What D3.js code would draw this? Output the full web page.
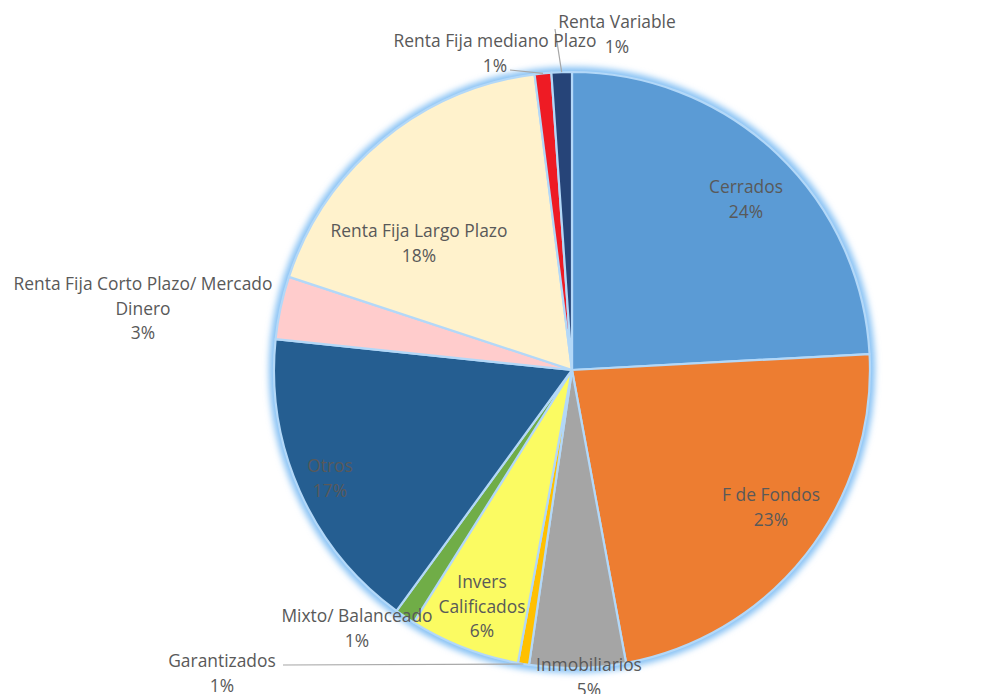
<!DOCTYPE html>
<html>
<head>
<meta charset="utf-8">
<script src="https://cdn.jsdelivr.net/npm/d3@7"></script>
<style>
  body { margin: 0; background: #fff; }
  svg { display: block; }
</style>
</head>
<body>
<script>
// tipos de fondo, sentido horario desde las 12
const categories = ["Cerrados", "F de Fondos", "Inmobiliarios", "Garantizados", "Invers Calificados",
  "Mixto/ Balanceado", "Otros", "Renta Fija Corto Plazo/ Mercado Dinero", "Renta Fija Largo Plazo",
  "Renta Fija mediano Plazo", "Renta Variable"];
const values = [24.1, 22.9, 5.2, 0.6, 6.0, 1.1, 16.6, 3.4, 17.9, 0.9, 1.1];
const pctLabels = ["24%", "23%", "5%", "1%", "6%", "1%", "17%", "3%", "18%", "1%", "1%"];
const colors = ["#5b9bd5", "#ed7d31", "#a5a5a5", "#ffc000", "#fbfb62", "#70ad47",
  "#255e91", "#ffcccc", "#fff2cc", "#ee1b24", "#264478"];

// texto de cada etiqueta (lineas) y donde va
const labelLines = {
  "Cerrados": ["Cerrados"],
  "F de Fondos": ["F de Fondos"],
  "Inmobiliarios": ["Inmobiliarios"],
  "Garantizados": ["Garantizados"],
  "Invers Calificados": ["Invers", "Calificados"],
  "Mixto/ Balanceado": ["Mixto/ Balanceado"],
  "Otros": ["Otros"],
  "Renta Fija Corto Plazo/ Mercado Dinero": ["Renta Fija Corto Plazo/ Mercado", "Dinero"],
  "Renta Fija Largo Plazo": ["Renta Fija Largo Plazo"],
  "Renta Fija mediano Plazo": ["Renta Fija mediano Plazo"],
  "Renta Variable": ["Renta Variable"]
};
const labelPos = {
  "Cerrados": [746, 193],
  "F de Fondos": [771, 501],
  "Inmobiliarios": [589, 671],
  "Garantizados": [222, 667],
  "Invers Calificados": [482, 588],
  "Mixto/ Balanceado": [357, 622],
  "Otros": [330, 472],
  "Renta Fija Corto Plazo/ Mercado Dinero": [143, 290],
  "Renta Fija Largo Plazo": [419, 237],
  "Renta Fija mediano Plazo": [495, 47],
  "Renta Variable": [617, 28]
};
// lineas guia: [inicio x, inicio y], termina en el borde del sector
const leaders = {
  "Garantizados": [283, 665],
  "Renta Fija mediano Plazo": [510, 70],
  "Renta Variable": [555, 29]
};

const WIDTH = 994, HEIGHT = 694;
const CX = 572, CY = 370, R = 298;
const LINE_H = 24.5;

const svg = d3.select("body").append("svg")
  .attr("width", WIDTH).attr("height", HEIGHT);

const defs = svg.append("defs");
defs.append("filter").attr("id", "glow")
  .attr("x", "-20%").attr("y", "-20%").attr("width", "140%").attr("height", "140%")
  .append("feGaussianBlur").attr("stdDeviation", 3.2);

const data = categories.map((c, i) => ({ name: c, value: values[i], pct: pctLabels[i], color: colors[i] }));

const pie = d3.pie().value(d => d.value).sort(null);
const arcs = pie(data);
const arc = d3.arc().innerRadius(0).outerRadius(R);

const g = svg.append("g").attr("transform", `translate(${CX},${CY})`);

// resplandor celeste
g.append("g").attr("filter", "url(#glow)")
  .selectAll("path")
  .data(arcs)
  .enter()
  .append("path")
  .attr("d", arc)
  .attr("fill", "#9fcdf5")
  .attr("stroke", "#86c1f4")
  .attr("stroke-width", 10)
  .attr("stroke-linejoin", "round");

g.append("g")
  .selectAll("path")
  .data(arcs)
  .enter()
  .append("path")
  .attr("d", arc)
  .attr("fill", d => d.data.color)
  .attr("stroke", "#b3d8f8")
  .attr("stroke-width", 2.2)
  .attr("stroke-linejoin", "round");

// lineas guia
arcs.forEach(a => {
  const start = leaders[a.data.name];
  if (!start) return;
  const mid = (a.startAngle + a.endAngle) / 2;
  const ex = CX + R * Math.sin(mid);
  const ey = CY - R * Math.cos(mid);
  svg.append("line")
    .attr("x1", start[0]).attr("y1", start[1])
    .attr("x2", ex).attr("y2", ey)
    .attr("stroke", "#a6a6a6")
    .attr("stroke-width", 1.2);
});

// etiquetas
arcs.forEach(a => {
  const name = a.data.name;
  const pos = labelPos[name];
  const lines = labelLines[name].concat([a.data.pct]);
  const t = svg.append("text")
    .attr("x", pos[0]).attr("y", pos[1])
    .attr("text-anchor", "middle")
    .attr("font-family", "'Open Sans', sans-serif")
    .attr("font-size", 17.4)
    .attr("fill", "#595959");
  lines.forEach((l, i) => {
    t.append("tspan")
      .attr("x", pos[0])
      .attr("dy", i === 0 ? 0 : LINE_H)
      .text(l);
  });
});
</script>
</body>
</html>
